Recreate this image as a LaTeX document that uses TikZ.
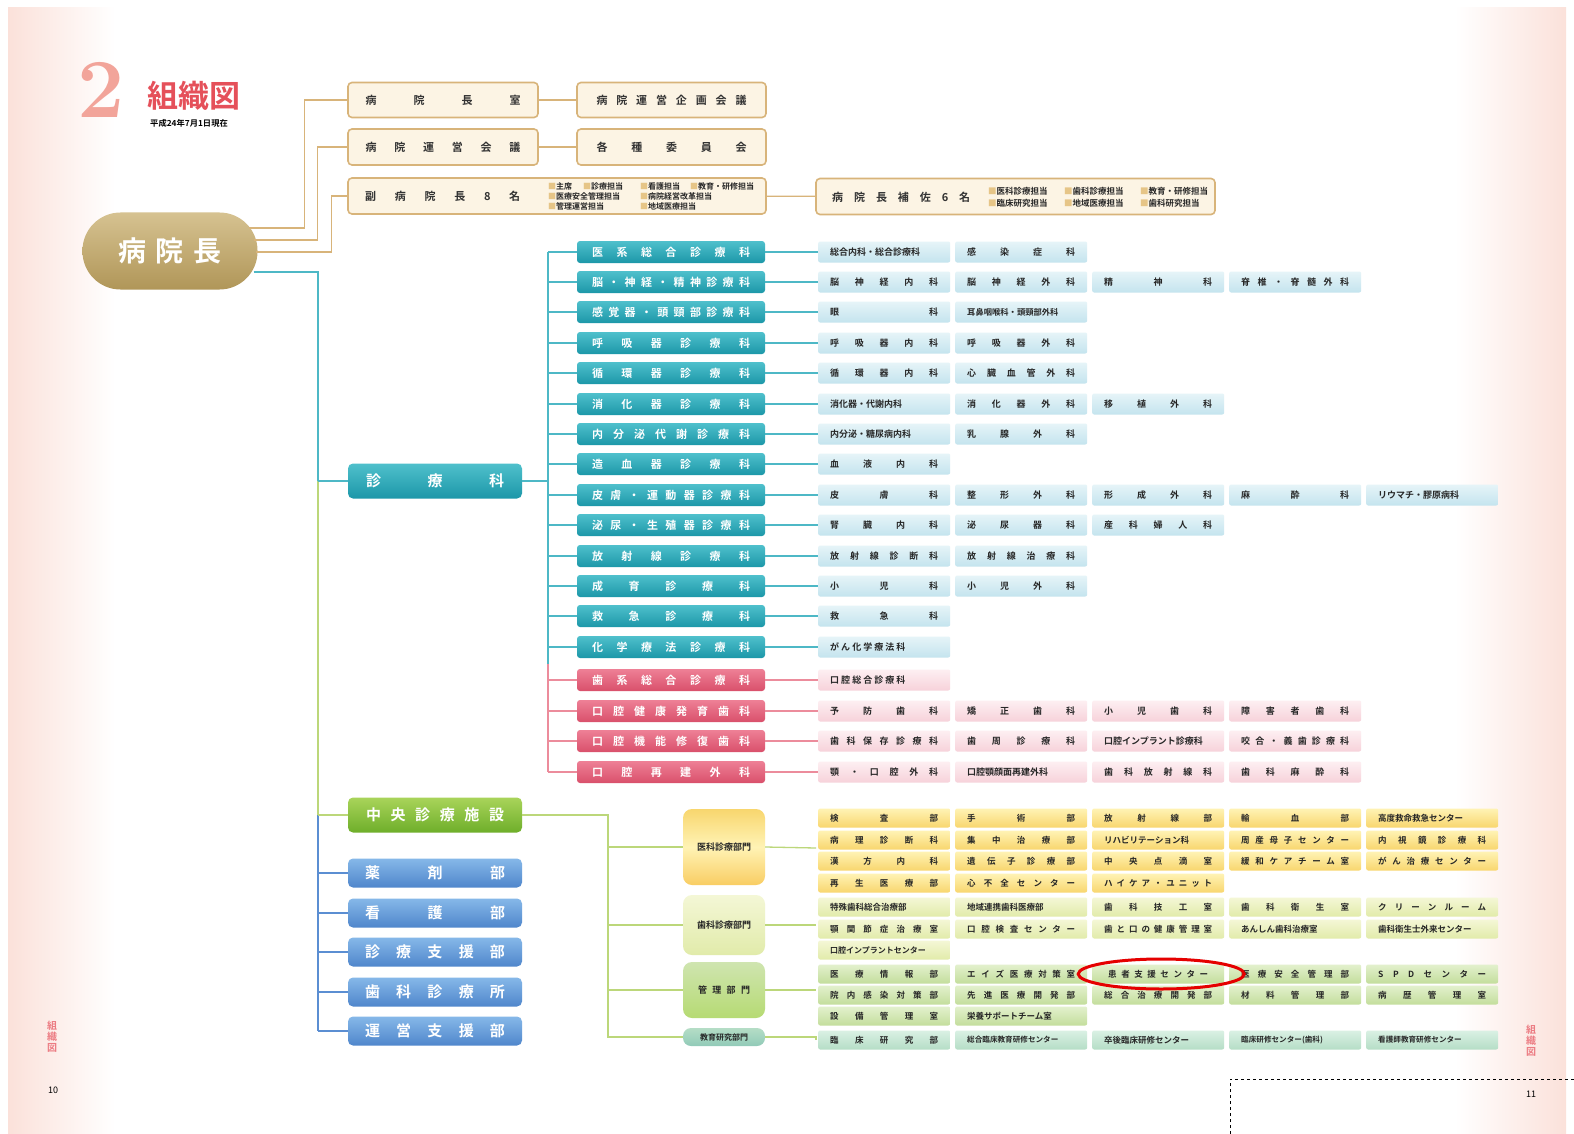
\documentclass[tikz,border=0pt]{standalone}
\usepackage{fontspec}
\newfontfamily\jp{Noto Sans CJK JP}[BoldFont={Noto Sans CJK JP Bold}]
\newcommand\jpb{\jp\bfseries}
\newcommand\SP[2][108pt]{\makebox[#1][s]{#2}}
\newcommand\LF[2][108pt]{\makebox[#1][l]{#2}}
\definecolor{tanline}{HTML}{D8B47A}
\definecolor{tanfill}{HTML}{FCF4E4}
\definecolor{tansq}{HTML}{E6C587}
\definecolor{presA}{HTML}{D6C291}
\definecolor{presB}{HTML}{B09658}
\definecolor{tealA}{HTML}{4FC0CC}
\definecolor{tealB}{HTML}{1C97A8}
\definecolor{tealL}{HTML}{4DB8C6}
\definecolor{cellA}{HTML}{E6F4F8}
\definecolor{cellB}{HTML}{C4E4EE}
\definecolor{pinkA}{HTML}{EE8096}
\definecolor{pinkB}{HTML}{D9506B}
\definecolor{pinkL}{HTML}{EC8C9C}
\definecolor{pcellA}{HTML}{FDEFF2}
\definecolor{pcellB}{HTML}{F7D2DA}
\definecolor{grnA}{HTML}{A9D45A}
\definecolor{grnB}{HTML}{6EAE2A}
\definecolor{grnL}{HTML}{BCD77A}
\definecolor{bluA}{HTML}{86B8E8}
\definecolor{bluB}{HTML}{4F86CB}
\definecolor{bluL}{HTML}{5B8ED2}
\definecolor{ylwA}{HTML}{FFF3B5}
\definecolor{ylwB}{HTML}{F8D66E}
\definecolor{dtlA}{HTML}{F4F7D6}
\definecolor{dtlB}{HTML}{E1EBAA}
\definecolor{mgA}{HTML}{E3F0CD}
\definecolor{mgB}{HTML}{C3DE9C}
\definecolor{edA}{HTML}{DAF0E4}
\definecolor{edB}{HTML}{B5DDC6}
\definecolor{titlepink}{HTML}{F2A49A}
\definecolor{titlered}{HTML}{E5505A}
\definecolor{pagepink}{HTML}{FBE1DA}
\tikzset{
  tanbox/.style={draw=tanline, line width=1.6pt, fill=tanfill, rounded corners=4pt, inner sep=0pt, font=\jpb\fontsize{11}{11}\selectfont, text=black!80},
  tanln/.style={draw=tanline, line width=1.4pt},
  tl/.style={draw=tealL, line width=1.3pt},
  pl/.style={draw=pinkL, line width=1.3pt},
  gl/.style={draw=grnL, line width=1.3pt},
  bl/.style={draw=bluL, line width=1.3pt},
  tealbox/.style={rounded corners=3pt, top color=tealA, bottom color=tealB, minimum width=188pt, minimum height=22pt, inner sep=0pt, text=white, font=\jpb\fontsize{11}{11}\selectfont},
  pinkbox/.style={tealbox, top color=pinkA, bottom color=pinkB},
  bigbox/.style={rounded corners=5pt, minimum width=174pt, inner sep=0pt, text=white, font=\jpb\fontsize{15}{15}\selectfont},
  cell/.style={rounded corners=2pt, minimum width=132pt, minimum height=21pt, inner sep=0pt, anchor=west, font=\jpb\fontsize{9}{9}\selectfont, text=black!85},
  bcell/.style={cell, top color=cellA, bottom color=cellB},
  pcell/.style={cell, top color=pcellA, bottom color=pcellB},
  scell/.style={cell, minimum height=19pt, font=\jpb\fontsize{8.5}{8.5}\selectfont},
  ycell/.style={scell, top color=ylwA, bottom color=ylwB},
  dcell/.style={scell, top color=dtlA, bottom color=dtlB},
  mcell/.style={scell, top color=mgA, bottom color=mgB},
  ecell/.style={scell, top color=edA, bottom color=edB},
  divbox/.style={rounded corners=9pt, minimum width=82pt, inner sep=0pt, font=\jpb\fontsize{9}{9}\selectfont, text=black!85},
  tiny/.style={anchor=west, inner sep=0pt, font=\jpb\fontsize{8}{8}\selectfont, text=black!85},
  tinyb/.style={tiny, font=\jpb\fontsize{8.5}{8.5}\selectfont},
}
\newcommand\sq{\textcolor{tansq}{■}}
\begin{document}
\begin{tikzpicture}[x=1pt,y=-1pt]
\useasboundingbox (0,0) rectangle (1574,1134);
\fill[white] (0,0) rectangle (1574,1134);
\shade[left color=pagepink, right color=white] (8,8) rectangle (115,1134);
\shade[left color=white, right color=pagepink] (1455,8) rectangle (1566,1134);

% title
\node[anchor=center, text=titlepink, font=\bfseries\fontsize{84}{84}\selectfont] (num) at (101,90) {2};
\node[anchor=west, text=titlered, font=\jpb\fontsize{31}{31}\selectfont, inner sep=0pt] (ttl) at (147,96) {組織図};
\node[anchor=west, font=\jpb\fontsize{8.3}{8.3}\selectfont, inner sep=0pt] (date) at (150,123) {平成24年7月1日現在};
\node[font=\jp\fontsize{9}{9}\selectfont, inner sep=0pt] (pg10) at (53,1090) {10};
\node[font=\jp\fontsize{9}{9}\selectfont, inner sep=0pt] (pg11) at (1531,1094) {11};
\node[font=\jpb\fontsize{10}{11}\selectfont, text=titlered!75, align=center, inner sep=0pt] (sl) at (52,1037) {組\\織\\図};
\node[font=\jpb\fontsize{10}{11}\selectfont, text=titlered!75, align=center, inner sep=0pt] (sr) at (1531,1041) {組\\織\\図};
\draw[dashed, line width=1pt] (1230,1134) -- (1230,1079) -- (1574,1079);

% president
\node[rounded corners=38pt, top color=presA, bottom color=presB, minimum width=175pt, minimum height=77pt, inner sep=0pt, text=white, font=\jpb\fontsize{28}{28}\selectfont] (pres) at (170,251) {病\hspace{10pt}院\hspace{10pt}長};

% top boxes
\node[tanbox, minimum width=190pt, minimum height=35pt] (hr) at (443,100) {\SP[155pt]{病 院 長 室}};
\node[tanbox, minimum width=189pt, minimum height=35pt] (hp) at (671.5,100) {\SP[150pt]{病 院 運 営 企 画 会 議}};
\node[tanbox, minimum width=190pt, minimum height=36pt] (hm) at (443,147) {\SP[155pt]{病 院 運 営 会 議}};
\node[tanbox, minimum width=189pt, minimum height=36pt] (ci) at (671.5,147) {\SP[150pt]{各 種 委 員 会}};
\node[tanbox, minimum width=418pt, minimum height=36pt] (vp) at (557,196) {};
\node[anchor=west, inner sep=0pt, font=\jpb\fontsize{11}{11}\selectfont, text=black!80] (vpt) at (365,196) {\SP[155pt]{副 病 院 長 8 名}};
\node[tiny] (v1) at (548,186) {\sq 主席};
\node[tiny] (v2) at (583,186) {\sq 診療担当};
\node[tiny] (v3) at (640,186) {\sq 看護担当};
\node[tiny] (v4) at (690,186) {\sq 教育・研修担当};
\node[tiny] (v5) at (548,196) {\sq 医療安全管理担当};
\node[tiny] (v6) at (640,196) {\sq 病院経営改革担当};
\node[tiny] (v7) at (548,206) {\sq 管理運営担当};
\node[tiny] (v8) at (640,206) {\sq 地域医療担当};
\node[tanbox, minimum width=399pt, minimum height=36pt] (as) at (1015.5,196.5) {};
\node[anchor=west, inner sep=0pt, font=\jpb\fontsize{11}{11}\selectfont, text=black!80] (ast) at (832,197) {\SP[138pt]{病 院 長 補 佐 6 名}};
\node[tinyb] (a1) at (988,191) {\sq 医科診療担当};
\node[tinyb] (a2) at (1064,191) {\sq 歯科診療担当};
\node[tinyb] (a3) at (1140,191) {\sq 教育・研修担当};
\node[tinyb] (a4) at (988,203) {\sq 臨床研究担当};
\node[tinyb] (a5) at (1064,203) {\sq 地域医療担当};
\node[tinyb] (a6) at (1140,203) {\sq 歯科研究担当};
\draw[tanln] (hr) -- (hp);
\draw[tanln] (hm) -- (ci);
\draw[tanln] (vp) -- (as);
\draw[tanln] ([xshift=-9pt,yshift=23pt]pres.east) -- ++(56,0) |- (hr.west);
\draw[tanln] ([xshift=-4pt,yshift=11pt]pres.east) -- ++(64,0) |- (hm.west);
\draw[tanln] ([xshift=-2pt,yshift=-1pt]pres.east) -- ++(76,0) |- (vp.west);

% main spine
\coordinate (spA) at (318,272);
\coordinate (spB) at (318,481);
\coordinate (spC) at (318,815);
\coordinate (spD) at (318,1031);
\draw[tl] ([xshift=-4pt,yshift=-21pt]pres.east) -- (spA) -- (spB);
\draw[gl] (spB) -- (spC);
\draw[bl] (spC) -- (spD);

\node[bigbox, minimum height=35pt, top color=tealA, bottom color=tealB] (sk) at (435,481) {\SP[138pt]{診 療 科}};
\node[bigbox, minimum height=35pt, top color=grnA, bottom color=grnB] (cc) at (435,815) {\SP[138pt]{中 央 診 療 施 設}};
\node[bigbox, minimum height=29pt, top color=bluA, bottom color=bluB] (b1) at (435,873) {\SP[140pt]{薬 剤 部}};
\node[bigbox, minimum height=29pt, top color=bluA, bottom color=bluB] (b2) at (435,913) {\SP[140pt]{看 護 部}};
\node[bigbox, minimum height=29pt, top color=bluA, bottom color=bluB] (b3) at (435,952) {\SP[140pt]{診 療 支 援 部}};
\node[bigbox, minimum height=29pt, top color=bluA, bottom color=bluB] (b4) at (435,992) {\SP[140pt]{歯 科 診 療 所}};
\node[bigbox, minimum height=29pt, top color=bluA, bottom color=bluB] (b5) at (435,1031) {\SP[140pt]{運 営 支 援 部}};
\draw[tl] (spB) -- (sk.west);
\draw[gl] (spC) -- (cc.west);
\foreach \b in {b1,b2,b3,b4,b5} { \draw[bl] (\b.west -| spC) -- (\b.west); }

% second spine
\coordinate (s2a) at (548,252);
\coordinate (s2m) at (548,664);
\coordinate (s2b) at (548,772);
\draw[tl] (sk.east) -- (sk.east -| s2a);
\draw[tl] (s2a) -- (s2m);
\draw[pl] (s2m) -- (s2b);

% clinical departments (teal)
\node[tealbox] (t1) at (671,252) {\SP[158pt]{医 系 総 合 診 療 科}};
\node[tealbox] (t2) at (671,282) {\SP[158pt]{脳 ・ 神 経 ・ 精 神 診 療 科}};
\node[tealbox] (t3) at (671,312) {\SP[158pt]{感 覚 器 ・ 頭 頸 部 診 療 科}};
\node[tealbox] (t4) at (671,343) {\SP[158pt]{呼 吸 器 診 療 科}};
\node[tealbox] (t5) at (671,373) {\SP[158pt]{循 環 器 診 療 科}};
\node[tealbox] (t6) at (671,404) {\SP[158pt]{消 化 器 診 療 科}};
\node[tealbox] (t7) at (671,434) {\SP[158pt]{内 分 泌 代 謝 診 療 科}};
\node[tealbox] (t8) at (671,464) {\SP[158pt]{造 血 器 診 療 科}};
\node[tealbox] (t9) at (671,495) {\SP[158pt]{皮 膚 ・ 運 動 器 診 療 科}};
\node[tealbox] (t10) at (671,525) {\SP[158pt]{泌 尿 ・ 生 殖 器 診 療 科}};
\node[tealbox] (t11) at (671,556) {\SP[158pt]{放 射 線 診 療 科}};
\node[tealbox] (t12) at (671,586) {\SP[158pt]{成 育 診 療 科}};
\node[tealbox] (t13) at (671,616) {\SP[158pt]{救 急 診 療 科}};
\node[tealbox] (t14) at (671,647) {\SP[158pt]{化 学 療 法 診 療 科}};

\node[bcell] (c1a) at (818,252) {\LF{総合内科・総合診療科}};
\node[bcell] (c1b) at (955,252) {\SP{感 染 症 科}};
\node[bcell] (c2a) at (818,282) {\SP{脳 神 経 内 科}};
\node[bcell] (c2b) at (955,282) {\SP{脳 神 経 外 科}};
\node[bcell] (c2c) at (1092,282) {\SP{精 神 科}};
\node[bcell] (c2d) at (1229,282) {\SP{脊 椎 ・ 脊 髄 外 科}};
\node[bcell] (c3a) at (818,312) {\SP{眼 科}};
\node[bcell] (c3b) at (955,312) {\LF{\fontsize{8.3}{8.3}\selectfont 耳鼻咽喉科・頭頸部外科}};
\node[bcell] (c4a) at (818,343) {\SP{呼 吸 器 内 科}};
\node[bcell] (c4b) at (955,343) {\SP{呼 吸 器 外 科}};
\node[bcell] (c5a) at (818,373) {\SP{循 環 器 内 科}};
\node[bcell] (c5b) at (955,373) {\SP{心 臓 血 管 外 科}};
\node[bcell] (c6a) at (818,404) {\LF{消化器・代謝内科}};
\node[bcell] (c6b) at (955,404) {\SP{消 化 器 外 科}};
\node[bcell] (c6c) at (1092,404) {\SP{移 植 外 科}};
\node[bcell] (c7a) at (818,434) {\LF{内分泌・糖尿病内科}};
\node[bcell] (c7b) at (955,434) {\SP{乳 腺 外 科}};
\node[bcell] (c8a) at (818,464) {\SP{血 液 内 科}};
\node[bcell] (c9a) at (818,495) {\SP{皮 膚 科}};
\node[bcell] (c9b) at (955,495) {\SP{整 形 外 科}};
\node[bcell] (c9c) at (1092,495) {\SP{形 成 外 科}};
\node[bcell] (c9d) at (1229,495) {\SP{麻 酔 科}};
\node[bcell] (c9e) at (1366,495) {\LF{リウマチ・膠原病科}};
\node[bcell] (c10a) at (818,525) {\SP{腎 臓 内 科}};
\node[bcell] (c10b) at (955,525) {\SP{泌 尿 器 科}};
\node[bcell] (c10c) at (1092,525) {\SP{産 科 婦 人 科}};
\node[bcell] (c11a) at (818,556) {\SP{放 射 線 診 断 科}};
\node[bcell] (c11b) at (955,556) {\SP{放 射 線 治 療 科}};
\node[bcell] (c12a) at (818,586) {\SP{小 児 科}};
\node[bcell] (c12b) at (955,586) {\SP{小 児 外 科}};
\node[bcell] (c13a) at (818,616) {\SP{救 急 科}};
\node[bcell] (c14a) at (818,647) {\LF{が ん 化 学 療 法 科}};

\foreach \i in {1,...,14} {
  \draw[tl] (t\i.west -| s2a) -- (t\i.west);
  \draw[tl] (t\i.east) -- (c\i a.west);
}

% dental (pink)
\node[pinkbox] (p1) at (671,680) {\SP[158pt]{歯 系 総 合 診 療 科}};
\node[pinkbox] (p2) at (671,711) {\SP[158pt]{口 腔 健 康 発 育 歯 科}};
\node[pinkbox] (p3) at (671,741) {\SP[158pt]{口 腔 機 能 修 復 歯 科}};
\node[pinkbox] (p4) at (671,772) {\SP[158pt]{口 腔 再 建 外 科}};
\node[pcell] (d1a) at (818,680) {\LF{口 腔 総 合 診 療 科}};
\node[pcell] (d2a) at (818,711) {\SP{予 防 歯 科}};
\node[pcell] (d2b) at (955,711) {\SP{矯 正 歯 科}};
\node[pcell] (d2c) at (1092,711) {\SP{小 児 歯 科}};
\node[pcell] (d2d) at (1229,711) {\SP{障 害 者 歯 科}};
\node[pcell] (d3a) at (818,741) {\SP{歯 科 保 存 診 療 科}};
\node[pcell] (d3b) at (955,741) {\SP{歯 周 診 療 科}};
\node[pcell] (d3c) at (1092,741) {\LF{口腔インプラント診療科}};
\node[pcell] (d3d) at (1229,741) {\SP{咬 合 ・ 義 歯 診 療 科}};
\node[pcell] (d4a) at (818,772) {\SP{顎 ・ 口 腔 外 科}};
\node[pcell] (d4b) at (955,772) {\LF{口腔顎顔面再建外科}};
\node[pcell] (d4c) at (1092,772) {\SP{歯 科 放 射 線 科}};
\node[pcell] (d4d) at (1229,772) {\SP{歯 科 麻 酔 科}};
\foreach \i in {1,...,4} {
  \draw[pl] (p\i.west -| s2a) -- (p\i.west);
  \draw[pl] (p\i.east) -- (d\i a.west);
}

% central facilities
\coordinate (s3a) at (608,815);
\coordinate (s3b) at (608,1037);
\node[divbox, minimum height=76pt, top color=ylwB, bottom color=ylwB!90!orange, middle color=ylwA] (m1) at (724,847) {医科診療部門};
\node[divbox, minimum height=60pt, top color=dtlA, bottom color=dtlB] (m2) at (724,925) {歯科診療部門};
\node[divbox, minimum height=56pt, top color=mgB!80, bottom color=grnA!85] (m3) at (724,990) {\SP[52pt]{管 理 部 門}};
\node[divbox, rounded corners=8pt, minimum height=18pt, top color=edB, bottom color=edB!80!teal] (m4) at (724,1037) {\fontsize{8}{8}\selectfont 教育研究部門};
\draw[gl] (cc.east) -- (s3a) -- (s3b) -- (m4.west);
\foreach \m in {m1,m2,m3} { \draw[gl] (\m.west -| s3a) -- (\m.west); }
\coordinate (e1) at (816,848);
\coordinate (e2) at (816,925);
\coordinate (e3) at (816,990);
\coordinate (e4) at (816,1040);
\draw[gl] (m1.east) -- (e1);
\draw[gl] (m2.east) -- (e2);
\draw[gl] (m3.east) -- (e3);
\draw[gl] (m4.east) -- (m4.east -| e4) -- (e4);

% medical division cells
\node[ycell] (y1a) at (818,818) {\SP{検 査 部}};
\node[ycell] (y1b) at (955,818) {\SP{手 術 部}};
\node[ycell] (y1c) at (1092,818) {\SP{放 射 線 部}};
\node[ycell] (y1d) at (1229,818) {\SP{輸 血 部}};
\node[ycell] (y1e) at (1366,818) {\LF{高度救命救急センター}};
\node[ycell] (y2a) at (818,840) {\SP{病 理 診 断 科}};
\node[ycell] (y2b) at (955,840) {\SP{集 中 治 療 部}};
\node[ycell] (y2c) at (1092,840) {\LF{リハビリテーション科}};
\node[ycell] (y2d) at (1229,840) {\SP{周 産 母 子 セ ン タ ー}};
\node[ycell] (y2e) at (1366,840) {\SP{内 視 鏡 診 療 科}};
\node[ycell] (y3a) at (818,861) {\SP{漢 方 内 科}};
\node[ycell] (y3b) at (955,861) {\SP{遺 伝 子 診 療 部}};
\node[ycell] (y3c) at (1092,861) {\SP{中 央 点 滴 室}};
\node[ycell] (y3d) at (1229,861) {\SP{緩 和 ケ ア チ ー ム 室}};
\node[ycell] (y3e) at (1366,861) {\SP{が ん 治 療 セ ン タ ー}};
\node[ycell] (y4a) at (818,883) {\SP{再 生 医 療 部}};
\node[ycell] (y4b) at (955,883) {\SP{心 不 全 セ ン タ ー}};
\node[ycell] (y4c) at (1092,883) {\SP{ハ イ ケ ア ・ ユ ニ ッ ト}};

% dental division cells
\node[dcell] (g1a) at (818,907) {\LF{特殊歯科総合治療部}};
\node[dcell] (g1b) at (955,907) {\LF{地域連携歯科医療部}};
\node[dcell] (g1c) at (1092,907) {\SP{歯 科 技 工 室}};
\node[dcell] (g1d) at (1229,907) {\SP{歯 科 衛 生 室}};
\node[dcell] (g1e) at (1366,907) {\SP{ク リ ー ン ル ー ム}};
\node[dcell] (g2a) at (818,929) {\SP{顎 関 節 症 治 療 室}};
\node[dcell] (g2b) at (955,929) {\SP{口 腔 検 査 セ ン タ ー}};
\node[dcell] (g2c) at (1092,929) {\SP{歯 と 口 の 健 康 管 理 室}};
\node[dcell] (g2d) at (1229,929) {\LF{あんしん歯科治療室}};
\node[dcell] (g2e) at (1366,929) {\LF{歯科衛生士外来センター}};
\node[dcell] (g3a) at (818,950) {\LF{\fontsize{8}{8}\selectfont 口腔インプラントセンター}};

% management division cells
\node[mcell] (k1a) at (818,974) {\SP{医 療 情 報 部}};
\node[mcell] (k1b) at (955,974) {\SP{エ イ ズ 医 療 対 策 室}};
\node[mcell] (k1c) at (1092,974) {\SP[100pt]{患 者 支 援 セ ン タ ー}};
\node[mcell] (k1d) at (1229,974) {\SP{医 療 安 全 管 理 部}};
\node[mcell] (k1e) at (1366,974) {\SP{S P D セ ン タ ー}};
\node[mcell] (k2a) at (818,995) {\SP{院 内 感 染 対 策 部}};
\node[mcell] (k2b) at (955,995) {\SP{先 進 医 療 開 発 部}};
\node[mcell] (k2c) at (1092,995) {\SP{総 合 治 療 開 発 部}};
\node[mcell] (k2d) at (1229,995) {\SP{材 料 管 理 部}};
\node[mcell] (k2e) at (1366,995) {\SP{病 歴 管 理 室}};
\node[mcell] (k3a) at (818,1016) {\SP{設 備 管 理 室}};
\node[mcell] (k3b) at (955,1016) {\LF{栄養サポートチーム室}};

% education & research
\node[ecell] (r1a) at (818,1040) {\SP{臨 床 研 究 部}};
\node[ecell] (r1b) at (955,1040) {\LF{\fontsize{7.6}{7.6}\selectfont 総合臨床教育研修センター}};
\node[ecell] (r1c) at (1092,1040) {\LF{卒後臨床研修センター}};
\node[ecell] (r1d) at (1229,1040) {\LF{\fontsize{7.6}{7.6}\selectfont 臨床研修センター(歯科)}};
\node[ecell] (r1e) at (1366,1040) {\LF{\fontsize{7.6}{7.6}\selectfont 看護師教育研修センター}};

% highlight
\draw[red!90!black, line width=3pt] ([xshift=3pt]k1c.center) ellipse (83pt and 15pt);
\end{tikzpicture}
\end{document}
